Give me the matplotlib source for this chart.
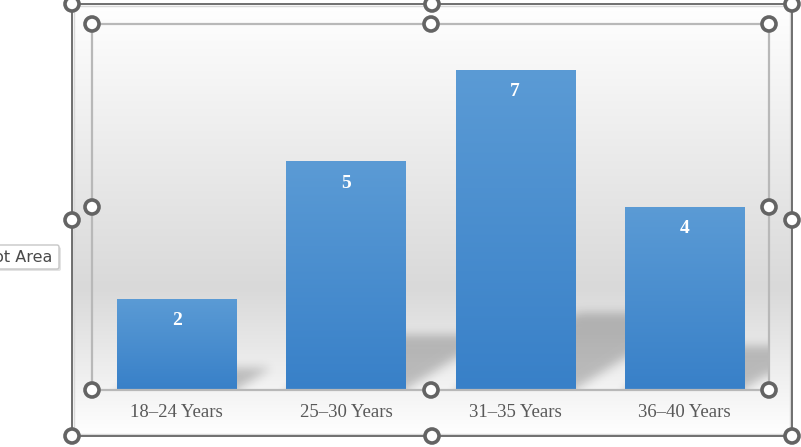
import numpy as np
import matplotlib
matplotlib.use("Agg")
import matplotlib.pyplot as plt
from matplotlib.patches import Rectangle, Circle, FancyBboxPatch
from matplotlib.colors import LinearSegmentedColormap

categories = ["18\u201324 Years", "25\u201330 Years", "31\u201335 Years", "36\u201340 Years"]
values = [2, 5, 7, 4]

W, H = 801, 447
fig = plt.figure(figsize=(W / 100, H / 100), dpi=100)
fig.patch.set_facecolor("white")

def fx(px):
    return px / W

def fy(py):
    return 1 - py / H

# ---- chart area background gradient ----
cx0, cy0, cx1, cy1 = 72, 4, 792, 436
bg = fig.add_axes([fx(cx0), fy(cy1), fx(cx1 - cx0), (cy1 - cy0) / H])
bg.set_axis_off()
t = np.linspace(0, 1, 400)
grey = np.where(t < 0.66, 1.0 - (1.0 - 0.851) * (t / 0.66),
                0.851 + (1.0 - 0.851) * ((t - 0.66) / 0.34))
grad = np.repeat(grey[:, None], 2, axis=1)
bg.imshow(np.dstack([grad, grad, grad]), aspect="auto", extent=[0, 1, 0, 1],
          origin="upper", interpolation="bilinear")
bg.set_xlim(0, 1)
bg.set_ylim(0, 1)

# ---- plot area ----
px0, py0, px1, py1 = 92, 24, 769, 390
ax = fig.add_axes([fx(px0), fy(py1), fx(px1 - px0), (py1 - py0) / H])
ax.patch.set_alpha(0)
ymax = 8
ax.set_xlim(-0.5, len(values) - 0.5)
ax.set_ylim(0, ymax)
x = np.arange(len(values))
bw = 0.704

# soft shadows behind bars
nx, ny = 677, 366
gx = np.linspace(-0.5, len(values) - 0.5, nx)
gy = np.linspace(0, ymax, ny)
GX, GY = np.meshgrid(gx, gy)
shadow = np.zeros_like(GX)
px_per_x = nx / len(values)
px_per_y = ny / ymax
for xi, v in zip(x, values):
    s = 0.24 * v  # height in data units
    s_px = s * px_per_y
    dx = 1.6 * s_px / px_per_x
    L, R = xi - bw / 2, xi + bw / 2
    frac = np.clip(GY / s, 0, None)
    inside = (GY <= s) & (GX >= L + dx * frac) & (GX <= R + dx * frac)
    shadow[inside] = 1.0

def blur(a, sigma):
    r = int(3 * sigma)
    k = np.exp(-0.5 * (np.arange(-r, r + 1) / sigma) ** 2)
    k /= k.sum()
    a = np.apply_along_axis(lambda m: np.convolve(np.pad(m, r, mode="edge"), k, mode="valid"), 1, a)
    a = np.apply_along_axis(lambda m: np.convolve(np.pad(m, r, mode="edge"), k, mode="valid"), 0, a)
    return a

shadow = blur(shadow, 5)
rgba = np.zeros((ny, nx, 4))
rgba[..., 3] = shadow * 0.22
ax.imshow(rgba, extent=[gx[0], gx[-1], 0, ymax], origin="lower", aspect="auto",
          zorder=1, interpolation="bilinear")

bars = ax.bar(x, values, width=bw, color="none", edgecolor="none", zorder=2)
cmap = LinearSegmentedColormap.from_list("b", ["#3880c8", "#5b9bd5"])
vg = np.linspace(0, 1, 256)[:, None]
for b in bars:
    im = ax.imshow(vg, cmap=cmap, aspect="auto", origin="lower",
                   extent=[b.get_x(), b.get_x() + b.get_width(), 0, b.get_height()],
                   zorder=2.5, interpolation="bilinear")
    im.set_clip_path(b)
ax.set_xlim(-0.5, len(values) - 0.5)
ax.set_ylim(0, ymax)

for xi, v in zip(x, values):
    ax.annotate(str(v), (xi, v), xytext=(0, -22), textcoords="offset pixels",
                ha="center", va="center", color="white", fontsize=14,
                fontweight="bold", family="Liberation Serif", zorder=4)

ax.set_xticks(x)
ax.set_xticklabels(categories, family="Liberation Serif", fontsize=13.5, color="#595959")
ax.tick_params(axis="x", length=0, pad=10)
ax.set_yticks([])
for sp in ["top", "left", "right"]:
    ax.spines[sp].set_visible(False)
ax.spines["bottom"].set_color("#8c8c8c")
ax.spines["bottom"].set_linewidth(1.3)
ax.spines["bottom"].set_zorder(5)

# ---- selection chrome overlay ----
ov = fig.add_axes([0, 0, 1, 1])
ov.set_xlim(0, W)
ov.set_ylim(H, 0)
ov.set_axis_off()
ov.patch.set_alpha(0)

ov.add_patch(Rectangle((px0, py0), px1 - px0, py1 - py0, fill=False,
                       edgecolor="#b8b8b8", linewidth=1.6, zorder=1))
ov.add_patch(Rectangle((cx0 + 2, cy0 + 2), cx1 - cx0 - 4, cy1 - cy0 - 4, fill=False,
                       edgecolor="#d9d9d9", linewidth=1.0, zorder=1))
ov.add_patch(Rectangle((cx0, cy0), cx1 - cx0, cy1 - cy0, fill=False,
                       edgecolor="#646464", linewidth=1.3, zorder=1))

handles = [(72, 4), (432, 4), (792, 4), (72, 220), (792, 220), (72, 436), (432, 436), (792, 436),
           (92, 24), (431, 24), (769, 24), (92, 207), (769, 207), (92, 390), (431, 390), (769, 390)]
for hx, hy in handles:
    ov.add_patch(Circle((hx, hy), 7, facecolor="white", edgecolor="#646464",
                        linewidth=2.6, zorder=3))

# tooltip
ov.add_patch(FancyBboxPatch((-40, 247), 101, 24, boxstyle="round,pad=0,rounding_size=2",
                            facecolor="#c8c8c8", edgecolor="none", alpha=0.5, zorder=4))
ov.add_patch(FancyBboxPatch((-40, 245), 99, 24, boxstyle="round,pad=0,rounding_size=2",
                            facecolor="white", edgecolor="#c6c6c6", linewidth=1, zorder=5))
ov.text(52, 257.5, "Plot Area", ha="right", va="center", fontsize=11.5,
        family="DejaVu Sans", color="#4a4a4a", zorder=6)

fig.savefig("out.png", dpi=100)
